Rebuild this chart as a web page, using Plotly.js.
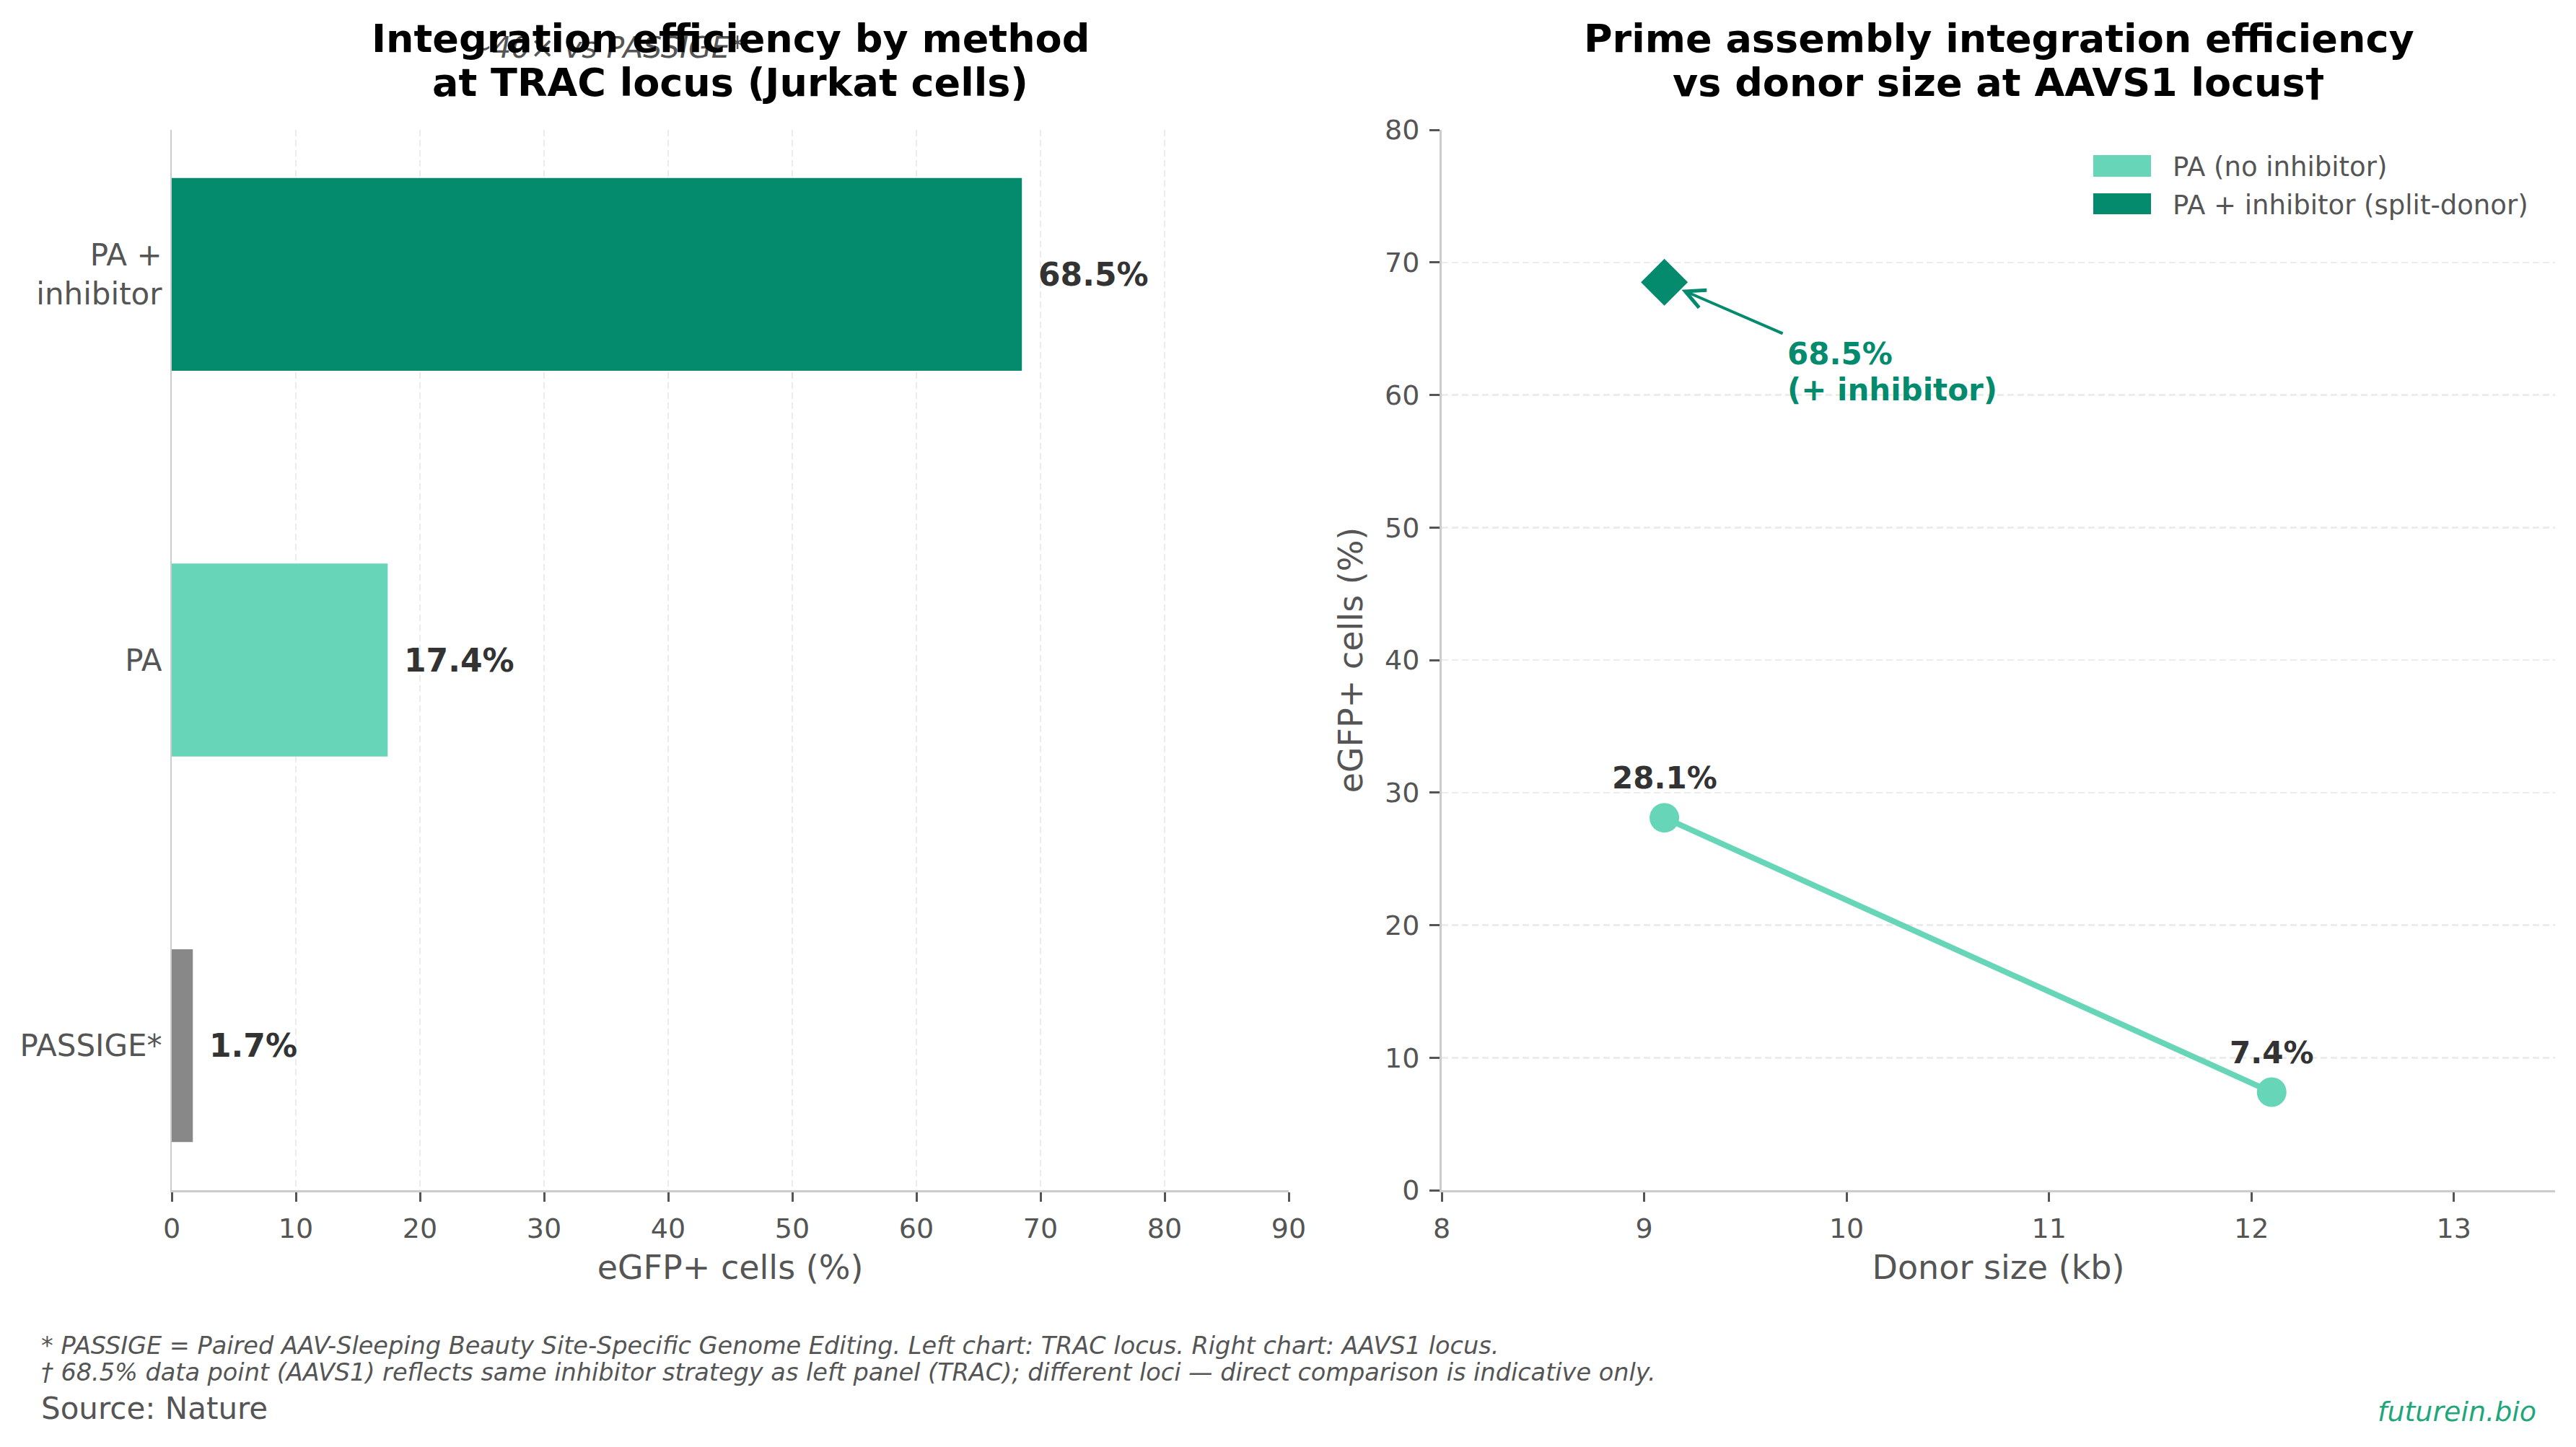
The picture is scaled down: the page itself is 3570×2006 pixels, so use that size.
<!DOCTYPE html>
<html>
<head>
<meta charset="utf-8">
<script src="https://cdn.plot.ly/plotly-3.0.1.min.js"></script>
<style>html,body{margin:0;padding:0;background:#fff;}#chart{width:3570px;height:2006px;}</style>
</head>
<body>
<div id="chart"></div>
<script>
// ---- data ----
const methods = ["PASSIGE*", "PA", "PA +<br>inhibitor"];
const efficiency = [1.7, 17.4, 68.5];
const barLabels = ["1.7%", "17.4%", "68.5%"];
const barColors = ["#888888", "#66d5b8", "#048a6d"];

const donorSizePA = [9.1, 12.1];
const effPA = [28.1, 7.4];
const labelsPA = ["28.1%", "7.4%"];
const donorSizeInh = [9.1];
const effInh = [68.5];

const xTicksLeft = [0,10,20,30,40,50,60,70,80,90];
const legendNames = ["PA (no inhibitor)", "PA + inhibitor (split-donor)"];
const legendColors = ["#66d5b8", "#048a6d"];

// ---- style ----
const W = 3570, H = 2006;
const FONT = "DejaVu Sans";
const GRAY = "#555555";
const DARK = "#048a6d";
const LIGHT = "#66d5b8";
const px = v => v / W;
const py = v => 1 - v / H;

const yDom = [py(1650), py(180)];

const traces = [
  {
    type: "bar", orientation: "h",
    x: efficiency, y: methods,
    marker: {color: barColors},
    width: 0.5,
    xaxis: "x", yaxis: "y",
    showlegend: false, hoverinfo: "skip"
  },
  {
    type: "scatter", mode: "lines+markers",
    x: donorSizePA, y: effPA,
    line: {color: LIGHT, width: 8},
    marker: {color: LIGHT, size: 41, symbol: "circle"},
    xaxis: "x2", yaxis: "y2",
    name: legendNames[0], showlegend: false, cliponaxis: false
  },
  {
    type: "scatter", mode: "markers",
    x: donorSizeInh, y: effInh,
    marker: {color: DARK, size: 50, symbol: "diamond"},
    xaxis: "x2", yaxis: "y2",
    name: legendNames[1], showlegend: false, cliponaxis: false
  }
];

const annotations = [];

// bar value labels
efficiency.forEach((v, i) => {
  annotations.push({
    x: v, y: methods[i], xref: "x", yref: "y",
    text: "<b>" + barLabels[i] + "</b>", showarrow: false,
    xanchor: "left", yanchor: "middle", xshift: 21,
    font: {family: FONT, size: 44, color: "#333333"}
  });
});

// point labels
donorSizePA.forEach((x, i) => {
  annotations.push({
    x: x, y: effPA[i], xref: "x2", yref: "y2",
    text: "<b>" + labelsPA[i] + "</b>", showarrow: false,
    xanchor: "center", yanchor: "middle", yshift: 55,
    font: {family: FONT, size: 42, color: "#333333"}
  });
});

// arrow to inhibitor point
annotations.push({
  x: donorSizeInh[0], y: effInh[0], xref: "x2", yref: "y2",
  ax: 9.69, ay: 64.6, axref: "x2", ayref: "y2",
  text: "", showarrow: true, arrowhead: 5, arrowsize: 1.3, arrowwidth: 4,
  arrowcolor: DARK, standoff: 26
});
annotations.push({
  x: 9.7, y: 63.1, xref: "x2", yref: "y2",
  text: "<b>" + effInh[0].toFixed(1) + "%</b>", showarrow: false,
  xanchor: "left", yanchor: "middle",
  font: {family: FONT, size: 42, color: DARK}
});
annotations.push({
  x: 9.7, y: 60.4, xref: "x2", yref: "y2",
  text: "<b>(+ inhibitor)</b>", showarrow: false,
  xanchor: "left", yanchor: "middle",
  font: {family: FONT, size: 42, color: DARK}
});

// subtitle (overlapping title, as in reference)
annotations.push({
  x: px(840), y: py(66), xref: "paper", yref: "paper",
  text: "<i>~40× vs PASSIGE*</i>", showarrow: false,
  xanchor: "center", yanchor: "middle",
  font: {family: FONT, size: 41, color: GRAY}
});

// titles
const titleFont = {family: FONT, size: 54, color: "#000000"};
[["Integration efficiency by method", 1012, 53],
 ["at TRAC locus (Jurkat cells)", 1012, 114],
 ["Prime assembly integration efficiency", 2770, 53],
 ["vs donor size at AAVS1 locus†", 2770, 114]].forEach(t => {
  annotations.push({
    x: px(t[1]), y: py(t[2]), xref: "paper", yref: "paper",
    text: "<b>" + t[0] + "</b>", showarrow: false,
    xanchor: "center", yanchor: "middle", font: titleFont
  });
});

// legend (manual, rectangle swatches)
const shapes = [];
const legRows = [[215, 245, 231], [268, 297, 284]];
legendNames.forEach((n, i) => {
  shapes.push({
    type: "rect", xref: "paper", yref: "paper",
    x0: px(2901), x1: px(2981), y0: py(legRows[i][1]), y1: py(legRows[i][0]),
    fillcolor: legendColors[i], line: {width: 0}
  });
  annotations.push({
    x: px(3009), y: py(legRows[i][2]), xref: "paper", yref: "paper",
    text: n, showarrow: false, xanchor: "left", yanchor: "middle",
    font: {family: FONT, size: 37, color: GRAY}
  });
});

// footnotes
annotations.push({
  x: px(55), y: py(1865), xref: "paper", yref: "paper",
  text: "<i>* PASSIGE = Paired AAV-Sleeping Beauty Site-Specific Genome Editing. Left chart: TRAC locus. Right chart: AAVS1 locus.</i>",
  showarrow: false, xanchor: "left", yanchor: "middle",
  font: {family: FONT, size: 33.5, color: GRAY}
});
annotations.push({
  x: px(55), y: py(1902), xref: "paper", yref: "paper",
  text: "<i>† 68.5% data point (AAVS1) reflects same inhibitor strategy as left panel (TRAC); different loci — direct comparison is indicative only.</i>",
  showarrow: false, xanchor: "left", yanchor: "middle",
  font: {family: FONT, size: 33.5, color: GRAY}
});
annotations.push({
  x: px(55), y: py(1952), xref: "paper", yref: "paper",
  text: "Source: Nature", showarrow: false, xanchor: "left", yanchor: "middle",
  font: {family: FONT, size: 42, color: GRAY}
});
annotations.push({
  x: px(3517), y: py(1957), xref: "paper", yref: "paper",
  text: "<i>futurein.bio</i>", showarrow: false, xanchor: "right", yanchor: "middle",
  font: {family: FONT, size: 38, color: "#1fa67c"}
});

const axCommon = {
  showline: true, linecolor: "#cccccc", zeroline: false,
  tickfont: {family: FONT, size: 38, color: GRAY},
  gridcolor: "#ececec", griddash: "9px,5px", gridwidth: 2.5
};

const layout = {
  width: W, height: H,
  margin: {l: 0, r: 0, t: 0, b: 0, autoexpand: false},
  paper_bgcolor: "#ffffff", plot_bgcolor: "#ffffff",
  hovermode: false, showlegend: false,
  font: {family: FONT, color: GRAY},
  xaxis: Object.assign({}, axCommon, {
    domain: [px(238), px(1786)], anchor: "y",
    range: [0, 90], tickvals: xTicksLeft,
    linewidth: 3, ticks: "outside", ticklen: 13, tickwidth: 3, tickcolor: GRAY,
    showgrid: true, ticklabelstandoff: 4,
    title: {text: "eGFP+ cells (%)", font: {family: FONT, size: 46, color: GRAY}, standoff: 18}
  }),
  yaxis: Object.assign({}, axCommon, {
    domain: yDom, anchor: "x",
    type: "category", categoryorder: "array", categoryarray: methods,
    range: [-0.375, 2.375],
    tickfont: {family: FONT, size: 42, color: GRAY},
    linewidth: 2, ticks: "", showgrid: false, ticklabelstandoff: 3
  }),
  xaxis2: Object.assign({}, axCommon, {
    domain: [px(1998), px(3541)], anchor: "y2",
    range: [8, 13.5], dtick: 1, tick0: 8,
    linewidth: 3, ticks: "outside", ticklen: 13, tickwidth: 3, tickcolor: GRAY,
    showgrid: false, ticklabelstandoff: 4,
    title: {text: "Donor size (kb)", font: {family: FONT, size: 46, color: GRAY}, standoff: 18}
  }),
  yaxis2: Object.assign({}, axCommon, {
    domain: yDom, anchor: "x2",
    range: [0, 80], dtick: 10, tick0: 0,
    linewidth: 3, ticks: "outside", ticklen: 14, tickwidth: 3, tickcolor: GRAY,
    showgrid: true, ticklabelstandoff: 6,
    title: {text: "eGFP+ cells (%)", font: {family: FONT, size: 46, color: GRAY}, standoff: 16}
  }),
  annotations: annotations,
  shapes: shapes
};

Plotly.newPlot("chart", traces, layout, {staticPlot: true, displayModeBar: false});
</script>
</body>
</html>
